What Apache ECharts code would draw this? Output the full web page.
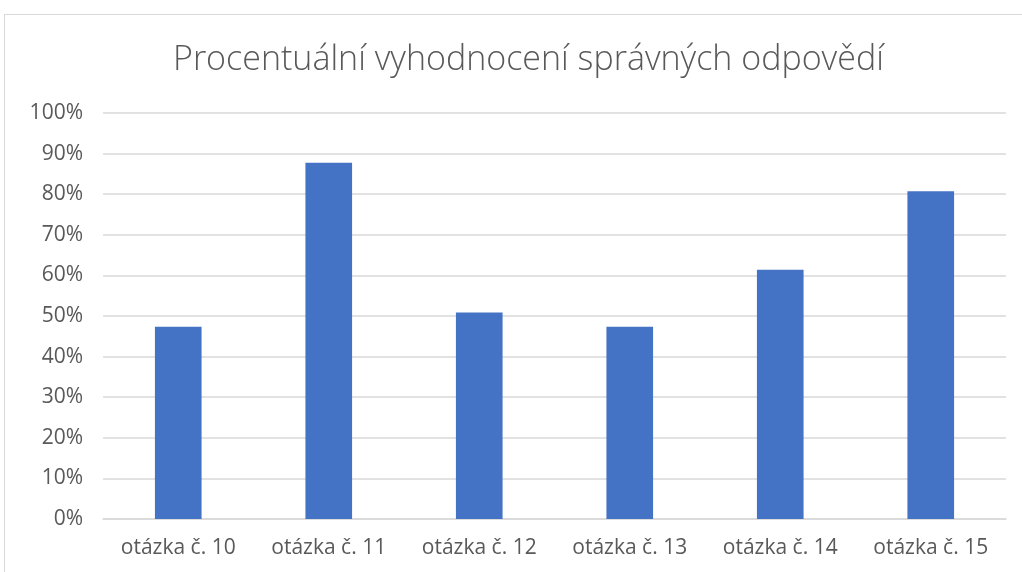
<!DOCTYPE html>
<html>
<head>
<meta charset="utf-8">
<script src="https://cdn.jsdelivr.net/npm/echarts@6/dist/echarts.min.js"></script>
<style>
  html, body { margin: 0; padding: 0; background: #fff; overflow: hidden; }
  .frame { position: absolute; left: 4px; top: 14px; width: 1100px; height: 700px; border: 1px solid #d9d9d9; }
  #chart { position: absolute; left: 0; top: 0; width: 1022px; height: 572px; }
</style>
</head>
<body>
<div class="frame"></div>
<div id="chart"></div>
<script>
// otázky a podíl správných odpovědí (%)
const categories = ['otázka č. 10', 'otázka č. 11', 'otázka č. 12', 'otázka č. 13', 'otázka č. 14', 'otázka č. 15']
const correctPct = [47.37, 87.72, 50.88, 47.37, 61.40, 80.70]

const chart = echarts.init(document.getElementById('chart'))

const option = {
  animation: false,
  title: {
    text: 'Procentuální vyhodnocení správných odpovědí',
    left: 168,
    top: 38,
    textStyle: {
      fontFamily: 'Open Sans',
      fontWeight: 300,
      fontSize: 34,
      color: '#595959'
    }
  },
  grid: {
    left: 103,
    right: 16,
    top: 113,
    bottom: 53
  },
  xAxis: {
    type: 'category',
    data: categories,
    axisTick: { show: false },
    axisLine: { lineStyle: { color: '#d9d9d9', width: 1.5 } },
    axisLabel: {
      color: '#595959',
      fontFamily: 'Open Sans',
      fontSize: 21,
      margin: 19
    }
  },
  yAxis: {
    type: 'value',
    min: 0,
    max: 100,
    interval: 10,
    axisLine: { show: false },
    axisTick: { show: false },
    axisLabel: {
      color: '#595959',
      fontFamily: 'Open Sans',
      fontSize: 21,
      margin: 20,
      formatter: '{value}%'
    },
    splitLine: { lineStyle: { color: '#d9d9d9', width: 1.5 } }
  },
  series: [
    {
      type: 'bar',
      data: correctPct,
      barWidth: '31%',
      itemStyle: { color: '#4472c4' }
    }
  ]
}

chart.setOption(option)
</script>
</body>
</html>
